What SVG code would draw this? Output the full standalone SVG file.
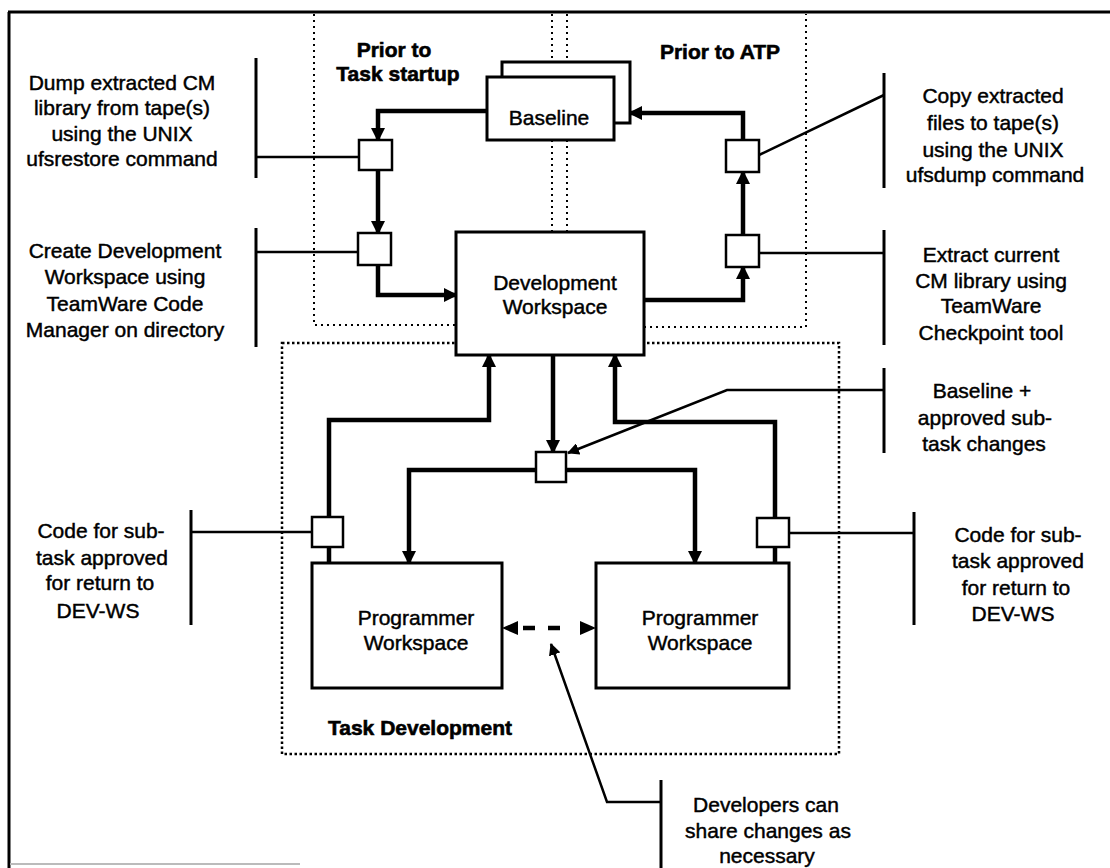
<svg xmlns="http://www.w3.org/2000/svg" width="1110" height="868" viewBox="0 0 1110 868">
  <style>
    .lbl { font-family: "Liberation Sans", Arial, sans-serif; font-size: 21px; fill: #000; stroke: #000; stroke-width: 0.45; text-anchor: middle; }
    .ttl { font-family: "Liberation Sans", Arial, sans-serif; font-size: 21px; font-weight: bold; fill: #000; stroke: #000; stroke-width: 0.6; text-anchor: middle; }
    .box { fill: #fff; stroke: #000; stroke-width: 3; }
    .small { fill: #fff; stroke: #000; stroke-width: 2.5; }
    .flow { fill: none; stroke: #000; stroke-width: 4.5; stroke-linejoin: miter; }
    .bar { fill: none; stroke: #000; stroke-width: 3; }
    .lead { fill: none; stroke: #000; stroke-width: 2.5; }
    .zone { fill: none; stroke: #000; stroke-width: 2; stroke-dasharray: 2 4; }
    .zone2 { fill: none; stroke: #000; stroke-width: 2.5; stroke-dasharray: 2.5 2.5; }
  </style>
  <defs>
    <marker id="head" viewBox="0 0 14 14" refX="12" refY="7" markerWidth="14" markerHeight="14" markerUnits="userSpaceOnUse" orient="auto">
      <path d="M0,0 L14,7 L0,14 z" fill="#000"/>
    </marker>
    <marker id="headS" viewBox="0 0 12 12" refX="11" refY="6" markerWidth="12" markerHeight="12" markerUnits="userSpaceOnUse" orient="auto">
      <path d="M0,0 L12,6 L0,12 z" fill="#000"/>
    </marker>
    <marker id="headD" viewBox="0 0 16 14" refX="15" refY="7" markerWidth="16" markerHeight="14" markerUnits="userSpaceOnUse" orient="auto-start-reverse">
      <path d="M0,0 L16,7 L0,14 z" fill="#000"/>
    </marker>
  </defs>

  <rect width="1110" height="868" fill="#fff"/>

  <!-- page frame -->
  <g id="frame">
    <line x1="8" y1="12" x2="1110" y2="12" stroke="#000" stroke-width="3"/>
    <line x1="9" y1="12" x2="9" y2="868" stroke="#000" stroke-width="3"/>
    <line x1="10" y1="864" x2="300" y2="864" stroke="#bbb" stroke-width="2"/>
  </g>

  <!-- phase zones -->
  <g id="zones">
    <path class="zone" d="M314,14 V325 H552 V14"/>
    <path class="zone" d="M567,14 V327 H806 V14"/>
    <rect class="zone2" x="282" y="343" width="557" height="411"/>
    <text class="ttl" x="394" y="57">Prior to</text>
    <text class="ttl" x="398" y="81">Task startup</text>
    <text class="ttl" x="720" y="59">Prior to ATP</text>
    <text class="ttl" x="420" y="735">Task Development</text>
  </g>

  <!-- flow connectors -->
  <g id="connectors">
    <path class="flow" d="M487,111 H378 V140" marker-end="url(#head)"/>
    <path class="flow" d="M378,170 V233" marker-end="url(#head)"/>
    <path class="flow" d="M378,265 V295 H456" marker-end="url(#head)"/>
    <path class="flow" d="M644,300 H743 V267" marker-end="url(#head)"/>
    <path class="flow" d="M743,235 V172" marker-end="url(#head)"/>
    <path class="flow" d="M743,140 V113 H630" marker-end="url(#head)"/>
    <path class="flow" d="M553,355 V452" marker-end="url(#head)"/>
    <path class="flow" d="M536,470 H409 V563" marker-end="url(#head)"/>
    <path class="flow" d="M566,470 H695 V563" marker-end="url(#head)"/>
    <path class="flow" d="M329,563 V547"/>
    <path class="flow" d="M329,517 V420 H489 V355" marker-end="url(#head)"/>
    <path class="flow" d="M775,563 V547"/>
    <path class="flow" d="M775,518 V422 H615 V355" marker-end="url(#head)"/>
    <path d="M503,628 H595" fill="none" stroke="#000" stroke-width="4.5" stroke-dasharray="0 20 12 13 12 20" marker-start="url(#headD)" marker-end="url(#headD)"/>
  </g>

  <!-- nodes -->
  <g id="baseline">
    <rect class="box" x="502" y="62" width="128" height="61"/>
    <rect class="box" x="487" y="77" width="127" height="63"/>
    <text class="lbl" x="549" y="125">Baseline</text>
  </g>
  <g id="dev-ws">
    <rect class="box" x="456" y="232" width="188" height="123"/>
    <text class="lbl" x="555" y="290">Development</text>
    <text class="lbl" x="555" y="314">Workspace</text>
  </g>
  <g id="prog-ws-1">
    <rect class="box" x="312" y="563" width="190" height="125"/>
    <text class="lbl" x="416" y="625">Programmer</text>
    <text class="lbl" x="416" y="650">Workspace</text>
  </g>
  <g id="prog-ws-2">
    <rect class="box" x="596" y="563" width="193" height="125"/>
    <text class="lbl" x="700" y="625">Programmer</text>
    <text class="lbl" x="700" y="650">Workspace</text>
  </g>
  <g id="step-restore"><rect class="small" x="359" y="140" width="33" height="30"/></g>
  <g id="step-create"><rect class="small" x="358" y="233" width="33" height="32"/></g>
  <g id="step-dump"><rect class="small" x="726" y="140" width="33" height="32"/></g>
  <g id="step-extract"><rect class="small" x="726" y="235" width="33" height="32"/></g>
  <g id="step-merge"><rect class="small" x="536" y="452" width="30" height="30"/></g>
  <g id="step-return-1"><rect class="small" x="312" y="517" width="31" height="30"/></g>
  <g id="step-return-2"><rect class="small" x="757" y="518" width="32" height="29"/></g>

  <!-- annotation callouts -->
  <g id="note-restore">
    <line class="bar" x1="256" y1="58" x2="256" y2="178"/>
    <line class="lead" x1="256" y1="157" x2="359" y2="157"/>
    <text class="lbl" x="122" y="90">Dump extracted CM</text>
    <text class="lbl" x="122" y="115">library from tape(s)</text>
    <text class="lbl" x="122" y="141">using the UNIX</text>
    <text class="lbl" x="122" y="166">ufsrestore command</text>
  </g>
  <g id="note-create">
    <line class="bar" x1="256" y1="228" x2="256" y2="347"/>
    <line class="lead" x1="256" y1="252" x2="358" y2="252"/>
    <text class="lbl" x="125" y="258">Create Development</text>
    <text class="lbl" x="125" y="284">Workspace using</text>
    <text class="lbl" x="125" y="311">TeamWare Code</text>
    <text class="lbl" x="125" y="337">Manager on directory</text>
  </g>
  <g id="note-dump">
    <line class="bar" x1="884" y1="73" x2="884" y2="188"/>
    <line class="lead" x1="759" y1="155" x2="884" y2="95"/>
    <text class="lbl" x="993" y="103">Copy extracted</text>
    <text class="lbl" x="993" y="130">files to tape(s)</text>
    <text class="lbl" x="993" y="157">using the UNIX</text>
    <text class="lbl" x="995" y="182">ufsdump command</text>
  </g>
  <g id="note-extract">
    <line class="bar" x1="884" y1="230" x2="884" y2="345"/>
    <line class="lead" x1="759" y1="253" x2="884" y2="253"/>
    <text class="lbl" x="991" y="262">Extract current</text>
    <text class="lbl" x="991" y="288">CM library using</text>
    <text class="lbl" x="991" y="313">TeamWare</text>
    <text class="lbl" x="991" y="340">Checkpoint tool</text>
  </g>
  <g id="note-merge">
    <line class="bar" x1="884" y1="368" x2="884" y2="453"/>
    <path class="lead" d="M884,390 H727 L568,453" stroke-width="3" marker-end="url(#headS)"/>
    <text class="lbl" x="982" y="398">Baseline +</text>
    <text class="lbl" x="985" y="425">approved sub-</text>
    <text class="lbl" x="984" y="451">task changes</text>
  </g>
  <g id="note-return-2">
    <line class="bar" x1="914" y1="512" x2="914" y2="625"/>
    <line class="lead" x1="789" y1="533" x2="914" y2="533"/>
    <text class="lbl" x="1018" y="542">Code for sub-</text>
    <text class="lbl" x="1018" y="568">task approved</text>
    <text class="lbl" x="1016" y="595">for return to</text>
    <text class="lbl" x="1013" y="621">DEV-WS</text>
  </g>
  <g id="note-return-1">
    <line class="bar" x1="191" y1="510" x2="191" y2="625"/>
    <line class="lead" x1="191" y1="532" x2="312" y2="532"/>
    <text class="lbl" x="101" y="538">Code for sub-</text>
    <text class="lbl" x="102" y="565">task approved</text>
    <text class="lbl" x="100" y="590">for return to</text>
    <text class="lbl" x="98" y="618">DEV-WS</text>
  </g>
  <g id="note-share">
    <line class="bar" x1="661" y1="780" x2="661" y2="868"/>
    <path class="lead" d="M661,802 H607 L551,644" stroke-width="3" marker-end="url(#headS)"/>
    <text class="lbl" x="766" y="812">Developers can</text>
    <text class="lbl" x="768" y="838">share changes as</text>
    <text class="lbl" x="767" y="863">necessary</text>
  </g>
</svg>
